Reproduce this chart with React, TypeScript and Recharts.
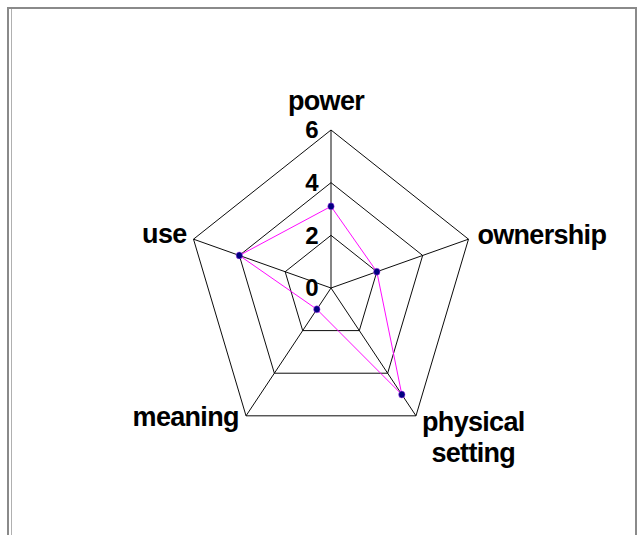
import React from 'react';
import { RadarChart, Radar, PolarGrid, PolarAngleAxis, PolarRadiusAxis } from 'recharts';

const axes = ['power', 'ownership', 'physical setting', 'meaning', 'use'];
const values = [3.1, 2, 5, 1, 4];
const radiusTicks = [0, 2, 4, 6];

const data = axes.map((axis, i) => ({ axis, value: values[i] }));

// the reference pentagon is squashed horizontally
const SX = 0.915;
const CX = 331;
const CY = 288;
const FONT = '"Liberation Sans", Arial, sans-serif';

const AngleTick = (props: any) => {
    const { x, y, payload, textAnchor } = props;
    const label: string = payload.value;
    const lines = label.split(' ');
    let dx = 0;
    let dy = 0;
    let anchor = textAnchor;
    if (textAnchor === 'middle') {
        dx = -5;
        dy = -12;
    } else if (textAnchor === 'start') {
        if (y > CY) {
            // physical setting: two centred lines
            anchor = 'middle';
            dx = 53;
            dy = 9;
        } else {
            dx = 2;
            dy = 7;
        }
    } else if (y > CY) {
        dx = -3;
        dy = 4;
    } else {
        dx = 0;
        dy = 6;
    }
    return (
        <g transform={`translate(${x + dx / SX},${y + dy}) scale(${1 / SX},1)`}>
            <text
                textAnchor={anchor}
                fontFamily={FONT}
                fontWeight={700}
                fontSize={27}
                letterSpacing={-0.7}
                fill="#000"
            >
                {lines.map((l, i) => (
                    <tspan key={i} x={0} dy={i === 0 ? 0 : 31}>
                        {l}
                    </tspan>
                ))}
            </text>
        </g>
    );
};

const RadiusTick = (props: any) => {
    const { x, y, payload } = props;
    return (
        <g transform={`translate(${x - 12.5 / SX},${y}) scale(${1 / SX},1)`}>
            <text
                textAnchor="end"
                dy="0.35em"
                fontFamily={FONT}
                fontWeight={700}
                fontSize={24}
                fill="#000"
            >
                {payload.value}
            </text>
        </g>
    );
};

export default function App() {
    return (
        <div style={{ position: 'absolute', left: 0, top: 0, width: 639, height: 535, background: '#fff', overflow: 'hidden' }}>
            {/* frame */}
            <div style={{ position: 'absolute', left: 7, top: 7, width: 630, height: 2, background: '#8a8a8a' }} />
            <div style={{ position: 'absolute', left: 7, top: 7, width: 2, height: 528, background: '#8a8a8a' }} />
            <div style={{ position: 'absolute', left: 11, top: 9, width: 1, height: 526, background: '#b0b0b0' }} />
            <div style={{ position: 'absolute', left: 635, top: 7, width: 2, height: 528, background: '#8a8a8a' }} />

            <div
                style={{
                    position: 'absolute',
                    left: 0,
                    top: 0,
                    width: 639,
                    height: 535,
                    transform: `scaleX(${SX})`,
                    transformOrigin: `${CX}px 0px`,
                }}
            >
                <RadarChart width={639} height={535} data={data} cx={CX} cy={CY} outerRadius={158}>
                    <PolarGrid gridType="polygon" stroke="#000" strokeWidth={1} />
                    <PolarAngleAxis dataKey="axis" tick={AngleTick} tickLine={false} axisLine={false} />
                    <PolarRadiusAxis
                        angle={90}
                        domain={[0, 6]}
                        ticks={radiusTicks as any}
                        tickCount={4}
                        axisLine={false}
                        tick={RadiusTick}
                    />
                    <Radar
                        dataKey="value"
                        stroke="#ff00ff"
                        strokeWidth={1}
                        fill="none"
                        fillOpacity={0}
                        dot={{ r: 3.5, fill: '#000080', stroke: '#c040ff', strokeWidth: 0.5, fillOpacity: 1 }}
                        isAnimationActive={false}
                    />
                </RadarChart>
            </div>
        </div>
    );
}
